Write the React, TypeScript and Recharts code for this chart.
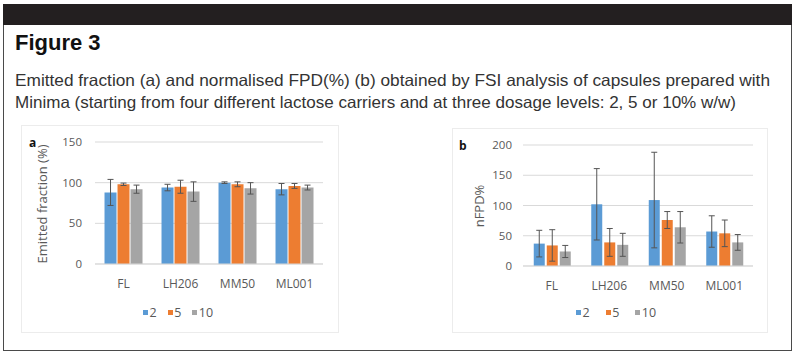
import React from 'react';
import { BarChart, Bar, XAxis, YAxis, CartesianGrid, ErrorBar } from 'recharts';

const categories = ['FL', 'LH206', 'MM50', 'ML001'];
const seriesNames = ['2', '5', '10'];
const seriesColors = ['#5b9bd5', '#ed7d31', '#a5a5a5'];

// (a) Emitted fraction (%)
const efMean2 = [88, 94, 100, 92];
const efErr2 = [16, 4, 1, 7];
const efMean5 = [98, 95, 98, 96];
const efErr5 = [1.5, 8, 3, 3];
const efMean10 = [92, 89, 93, 94];
const efErr10 = [5, 12, 7, 3];
const efTicks = [0, 50, 100, 150];

// (b) nFPD%
const nfMean2 = [37, 102, 109, 57];
const nfErr2 = [22, 59, 79, 26];
const nfMean5 = [34, 39, 76, 54];
const nfErr5 = [26, 23, 14, 22];
const nfMean10 = [24, 35, 64, 39];
const nfErr10 = [10, 19, 26, 13];
const nfTicks = [0, 50, 100, 150, 200];

const build = (m: number[][], e: number[][]) =>
  categories.map((c, i) => ({
    cat: c,
    v0: m[0][i], e0: e[0][i],
    v1: m[1][i], e1: e[1][i],
    v2: m[2][i], e2: e[2][i],
  }));

const efData = build([efMean2, efMean5, efMean10], [efErr2, efErr5, efErr10]);
const nfData = build([nfMean2, nfMean5, nfMean10], [nfErr2, nfErr5, nfErr10]);

const FONT = '"Open Sans", "Noto Sans", sans-serif';
const TITLE_FONT = '"Liberation Sans", Arial, sans-serif';
const GREY_TEXT = '#595959';

type PanelProps = {
  left: number; top: number; width: number; height: number;
  data: any[]; ticks: number[];
  margin: { top: number; right: number; left: number; bottom: number };
  yWidth: number; xHeight: number; yTickMargin: number; xTickMargin: number;
  barGap: number; barCategoryGap: string;
};

function Panel(p: PanelProps) {
  return (
    <div style={{ position: 'absolute', left: p.left, top: p.top, width: p.width, height: p.height }}>
      <BarChart
        width={p.width}
        height={p.height}
        data={p.data}
        margin={p.margin}
        barGap={p.barGap}
        barCategoryGap={p.barCategoryGap}
      >
        <CartesianGrid vertical={false} stroke="#d9d9d9" />
        <XAxis
          dataKey="cat"
          height={p.xHeight}
          tickLine={false}
          axisLine={{ stroke: '#d9d9d9' }}
          tickMargin={p.xTickMargin}
          tick={{ fill: GREY_TEXT, fontSize: 12, fontFamily: FONT }}
          interval={0}
        />
        <YAxis
          width={p.yWidth}
          domain={[p.ticks[0], p.ticks[p.ticks.length - 1]]}
          ticks={p.ticks}
          tickLine={false}
          axisLine={false}
          tickMargin={p.yTickMargin}
          tick={{ fill: GREY_TEXT, fontSize: 11.5, fontFamily: FONT }}
        />
        {[0, 1, 2].map((k) => (
          <Bar key={k} dataKey={'v' + k} fill={seriesColors[k]} isAnimationActive={false}>
            <ErrorBar dataKey={'e' + k} width={3} strokeWidth={1} stroke="#555555" direction="y" />
          </Bar>
        ))}
      </BarChart>
    </div>
  );
}

function Legend({ left, cy, gap }: { left: number; cy: number; gap: number }) {
  return (
    <div
      style={{
        position: 'absolute', left, top: cy - 9, height: 18,
        display: 'flex', alignItems: 'center', whiteSpace: 'nowrap',
        fontFamily: FONT, fontSize: 12.5, color: GREY_TEXT,
      }}
    >
      {seriesNames.map((n, i) => (
        <span key={n} style={{ display: 'flex', alignItems: 'center', marginRight: i < 2 ? gap : 0 }}>
          <span style={{ display: 'inline-block', width: 5, height: 5, background: seriesColors[i], marginRight: 1.5 }} />
          <span>{n}</span>
        </span>
      ))}
    </div>
  );
}

export default function App() {
  return (
    <div style={{ position: 'absolute', left: 0, top: 0, width: 797, height: 357, background: '#ffffff', overflow: 'hidden' }}>
      {/* frame */}
      <div style={{ position: 'absolute', left: 3, top: 4, width: 789, height: 347, boxSizing: 'border-box', borderLeft: '1.5px solid #4a4a4a', borderRight: '1.5px solid #4a4a4a', borderBottom: '1.5px solid #4a4a4a' }} />
      <div style={{ position: 'absolute', left: 3, top: 4, width: 789, height: 21, background: '#231f20' }} />

      <svg width={797} height={120} style={{ position: 'absolute', left: 0, top: 0 }}>
        <text x={15} y={50}
          style={{ fontFamily: TITLE_FONT, fontWeight: 700, fontSize: 22 }} fill="#111">
          Figure 3
        </text>
        <text x={15} y={86} textLength={755} lengthAdjust="spacingAndGlyphs"
          style={{ fontFamily: TITLE_FONT, fontSize: 16.5 }} fill="#333">
          Emitted fraction (a) and normalised FPD(%) (b) obtained by FSI analysis of capsules prepared with
        </text>
        <text x={15} y={108} textLength={721} lengthAdjust="spacingAndGlyphs"
          style={{ fontFamily: TITLE_FONT, fontSize: 16.5 }} fill="#333">
          Minima (starting from four different lactose carriers and at three dosage levels: 2, 5 or 10% w/w)
        </text>
      </svg>

      {/* panel a */}
      <div style={{ position: 'absolute', left: 21, top: 125, width: 318, height: 208, boxSizing: 'border-box', border: '1px solid #ececec' }} />
      <Panel
        left={21} top={125} width={318} height={208}
        data={efData} ticks={efTicks}
        margin={{ top: 17, right: 16, left: 34, bottom: 0 }}
        yWidth={40} xHeight={69} yTickMargin={7} xTickMargin={9}
        barGap={1} barCategoryGap="16.7%"
      />
      <div style={{ position: 'absolute', left: 29, top: 134, fontFamily: FONT, fontWeight: 700, fontSize: 12, color: '#111' }}>a</div>
      <div style={{ position: 'absolute', left: 42, top: 204, transform: 'translate(-50%, -50%) rotate(-90deg)', whiteSpace: 'nowrap', fontFamily: FONT, fontSize: 13, color: GREY_TEXT }}>
        Emitted fraction (%)
      </div>
      <Legend left={143} cy={312} gap={11} />

      {/* panel b */}
      <div style={{ position: 'absolute', left: 452, top: 128, width: 316, height: 205, boxSizing: 'border-box', border: '1px solid #ececec' }} />
      <Panel
        left={452} top={128} width={316} height={205}
        data={nfData} ticks={nfTicks}
        margin={{ top: 17, right: 15, left: 31, bottom: 0 }}
        yWidth={40} xHeight={67} yTickMargin={5} xTickMargin={9}
        barGap={2} barCategoryGap="18.7%"
      />
      <div style={{ position: 'absolute', left: 459, top: 137, fontFamily: FONT, fontWeight: 700, fontSize: 12, color: '#111' }}>b</div>
      <div style={{ position: 'absolute', left: 479, top: 206, transform: 'translate(-50%, -50%) rotate(-90deg)', whiteSpace: 'nowrap', fontFamily: FONT, fontSize: 13, color: GREY_TEXT }}>
        nFPD%
      </div>
      <Legend left={576} cy={312} gap={16} />
    </div>
  );
}
